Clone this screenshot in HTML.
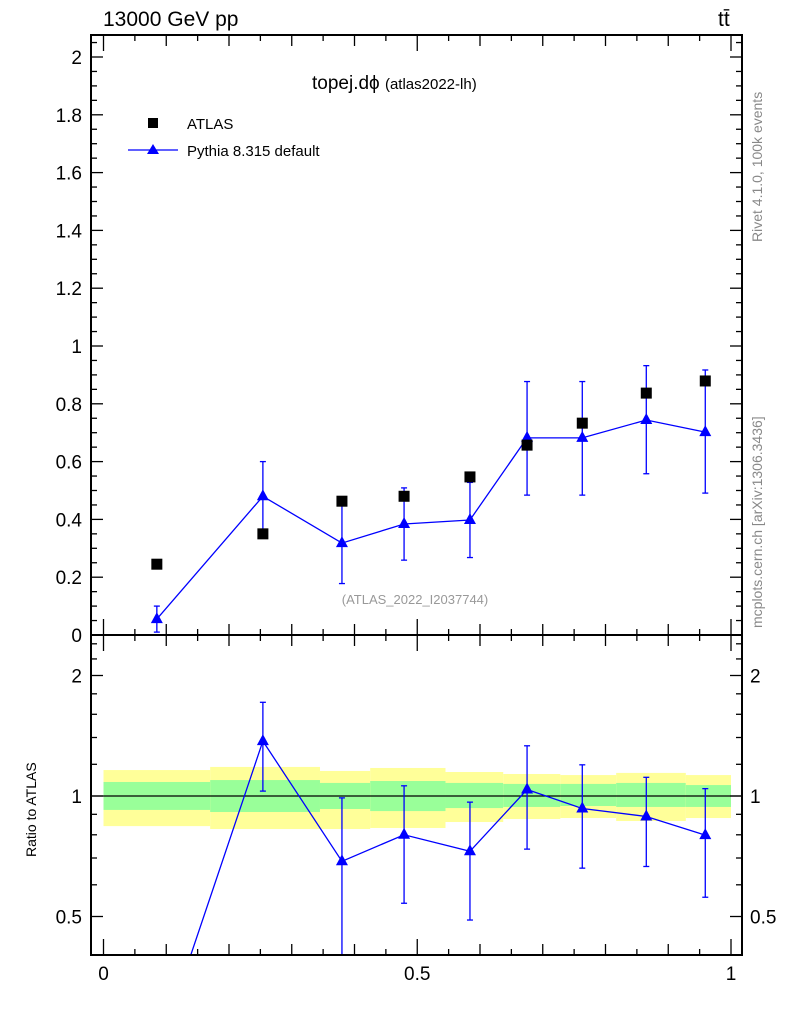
<!DOCTYPE html>
<html><head><meta charset="utf-8"><style>
html,body{margin:0;padding:0;background:#fff;overflow:hidden;width:786px;height:1024px;}
svg{display:block;font-family:"Liberation Sans",sans-serif;}
</style></head><body>
<svg id="chart" width="786" height="1024" viewBox="0 0 786 1024" xmlns="http://www.w3.org/2000/svg">
<g id="bands"></g>
<g id="marks"></g>
<g id="axes"></g>
<text x="103" y="26" font-size="21">13000 GeV pp</text>
<text x="718" y="26" font-size="21">tt̄</text>
<text x="312" y="89" font-size="19">topej.dϕ <tspan font-size="15">(atlas2022-lh)</tspan></text>
<rect x="148" y="118" width="10" height="10" fill="#000"/>
<text x="187" y="129" font-size="15">ATLAS</text>
<line x1="128" y1="150" x2="178" y2="150" stroke="#00f" stroke-width="1.3"/>
<path d="M153,144 L159,154 L147,154 Z" fill="#00f"/>
<text x="187" y="156" font-size="15">Pythia 8.315 default</text>
<text x="415" y="604" font-size="13" fill="#999" text-anchor="middle">(ATLAS_2022_I2037744)</text>
<text transform="translate(762,242) rotate(-90)" font-size="14" fill="#888">Rivet 4.1.0,  100k events</text>
<text transform="translate(762,628) rotate(-90)" font-size="14" fill="#888">mcplots.cern.ch [arXiv:1306.3436]</text>
<text transform="translate(36,857) rotate(-90)" font-size="14">Ratio to ATLAS</text>
</svg>
<script>
const xCenters=[0.085,0.254,0.38,0.479,0.584,0.675,0.763,0.865,0.959];
const atlasVals=[0.245,0.35,0.463,0.48,0.547,0.657,0.733,0.837,0.879];
const pythiaVals=[0.055,0.48,0.318,0.384,0.398,0.682,0.682,0.744,0.702];
const pythiaErrUp=[0.045,0.12,0.14,0.125,0.13,0.195,0.195,0.188,0.215];
const pythiaErrDn=[0.045,0.12,0.14,0.125,0.13,0.198,0.198,0.186,0.211];
const binEdges=[0,0.17,0.345,0.425,0.545,0.637,0.728,0.817,0.928,1];
const yellowHi=[1.161,1.182,1.155,1.175,1.148,1.135,1.128,1.142,1.128];
const yellowLo=[0.841,0.827,0.827,0.832,0.861,0.876,0.881,0.866,0.881];
const greenHi=[1.084,1.096,1.078,1.090,1.078,1.072,1.072,1.078,1.065];
const greenLo=[0.923,0.912,0.928,0.917,0.933,0.939,0.944,0.939,0.939];
const mainTicks=[0,0.2,0.4,0.6,0.8,1,1.2,1.4,1.6,1.8,2];
const mainTickLabels=["0","0.2","0.4","0.6","0.8","1","1.2","1.4","1.6","1.8","2"];
const ratioTicks=[0.5,1,2];
const ratioTickLabels=["0.5","1","2"];
const xTicks=[0,0.5,1];
const xTickLabels=["0","0.5","1"];

const NS="http://www.w3.org/2000/svg";
const L=91,R=742,T=35,MB=635,RB=955;
const X=v=>103.5+v*627.5;
const Y=v=>635-v*289;
const RY=v=>796-120.5*Math.log2(v);
function mk(parent,tag,attrs){const e=document.createElementNS(NS,tag);for(const k in attrs)e.setAttribute(k,attrs[k]);document.getElementById(parent).appendChild(e);return e;}

for(let i=0;i<yellowHi.length;i++){
  const y=mk('bands','rect',{x:X(binEdges[i]),y:RY(yellowHi[i]),width:X(binEdges[i+1])-X(binEdges[i]),height:RY(yellowLo[i])-RY(yellowHi[i]),fill:'#ffff99'});
  
  
  const g=mk('bands','rect',{x:X(binEdges[i]),y:RY(greenHi[i]),width:X(binEdges[i+1])-X(binEdges[i]),height:RY(greenLo[i])-RY(greenHi[i]),fill:'#99ff99'});
  
  
}
const one=mk('bands','line',{x1:L,x2:R,y1:RY(1),y2:RY(1),stroke:'#000','stroke-width':1.3});



const clipM=mk('marks','clipPath',{id:'cm'});
const cr=document.createElementNS(NS,'rect');cr.setAttribute('x',L);cr.setAttribute('y',T);cr.setAttribute('width',R-L);cr.setAttribute('height',MB-T);clipM.appendChild(cr);
const clipR=mk('marks','clipPath',{id:'cr'});
const cr2=document.createElementNS(NS,'rect');cr2.setAttribute('x',L);cr2.setAttribute('y',MB);cr2.setAttribute('width',R-L);cr2.setAttribute('height',RB-MB);clipR.appendChild(cr2);

const gm=mk('marks','g',{'clip-path':'url(#cm)'});gm.id='gm';
const gr=mk('marks','g',{'clip-path':'url(#cr)'});gr.id='gr';
const lineM=mk('gm','polyline',{points:xCenters.map((x,i)=>X(x)+','+Y(pythiaVals[i])).join(' '),fill:'none',stroke:'#00f','stroke-width':1.3});


const ratio=pythiaVals.map((v,i)=>v/atlasVals[i]);
const lineR=mk('gr','polyline',{points:xCenters.map((x,i)=>X(x)+','+RY(ratio[i])).join(' '),fill:'none',stroke:'#00f','stroke-width':1.3});


function tri(par,x,y,name){const p=mk(par,'path',{d:`M${x},${y-7} L${x+6},${y+4} L${x-6},${y+4} Z`,fill:'#00f'});}
function err(par,x,y1,y2){mk(par,'line',{x1:x,x2:x,y1:y1,y2:y2,stroke:'#00f','stroke-width':1.3});mk(par,'line',{x1:x-3,x2:x+3,y1:y1,y2:y1,stroke:'#00f','stroke-width':1.3});mk(par,'line',{x1:x-3,x2:x+3,y1:y2,y2:y2,stroke:'#00f','stroke-width':1.3});}
xCenters.forEach((xv,i)=>{
  const x=X(xv);
  err('gm',x,Y(pythiaVals[i]+pythiaErrUp[i]),Y(pythiaVals[i]-pythiaErrDn[i]));
  tri('gm',x,Y(pythiaVals[i]),'pythia-point');
  const s=mk('gm','rect',{x:x-5.5,y:Y(atlasVals[i])-5.5,width:11,height:11,fill:'#000'});
  
  
  const hi=(pythiaVals[i]+pythiaErrUp[i])/atlasVals[i];
  if(hi>0.42){
    const lo=Math.max((pythiaVals[i]-pythiaErrDn[i])/atlasVals[i],0.2);
    err('gr',x,RY(hi),RY(lo));
  }
  tri('gr',x,RY(ratio[i]),'ratio-point');
});

[[T,MB],[MB,RB]].forEach(([a,b])=>{const f=mk('axes','rect',{x:L,y:a,width:R-L,height:b-a,fill:'none',stroke:'#000','stroke-width':2});});
function tk(x1,y1,x2,y2){mk('axes','line',{x1,y1,x2,y2,stroke:'#000','stroke-width':1.3});}
for(let v=0;v<=2.06;v+=0.05){const y=Y(v);const maj=Math.abs(v/0.2-Math.round(v/0.2))<1e-6;const l=maj?12:6;tk(L,y,L+l,y);tk(R,y,R-l,y);}
mainTicks.forEach((v,i)=>{const t=mk('axes','text',{x:82,y:Y(v)+7,'font-size':19,'text-anchor':'end'});t.textContent=mainTickLabels[i];});
for(let k=0;k<=20;k++){const v=k*0.05;const x=X(v);let l=k%10==0?16:(k%2==0?11:6);tk(x,MB,x,MB-l);tk(x,T,x,T+l);tk(x,RB,x,RB-l);tk(x,MB,x,MB+l);}
xTicks.forEach((v,i)=>{const t=mk('axes','text',{x:X(v),y:980,'font-size':19,'text-anchor':'middle'});t.textContent=xTickLabels[i];});
[0.4,0.5,0.6,0.7,0.8,0.9,1,1.2,1.4,1.6,1.8,2,2.2,2.4].forEach(v=>{const y=RY(v);const maj=(v==0.5||v==1||v==2);const l=maj?12:6;tk(L,y,L+l,y);tk(R,y,R-l,y);});
ratioTicks.forEach((v,i)=>{
  const t=mk('axes','text',{x:82,y:RY(v)+7,'font-size':19,'text-anchor':'end'});t.textContent=ratioTickLabels[i];
  const t2=mk('axes','text',{x:750,y:RY(v)+7,'font-size':19});t2.textContent=ratioTickLabels[i];
});
</script>
</body></html>
